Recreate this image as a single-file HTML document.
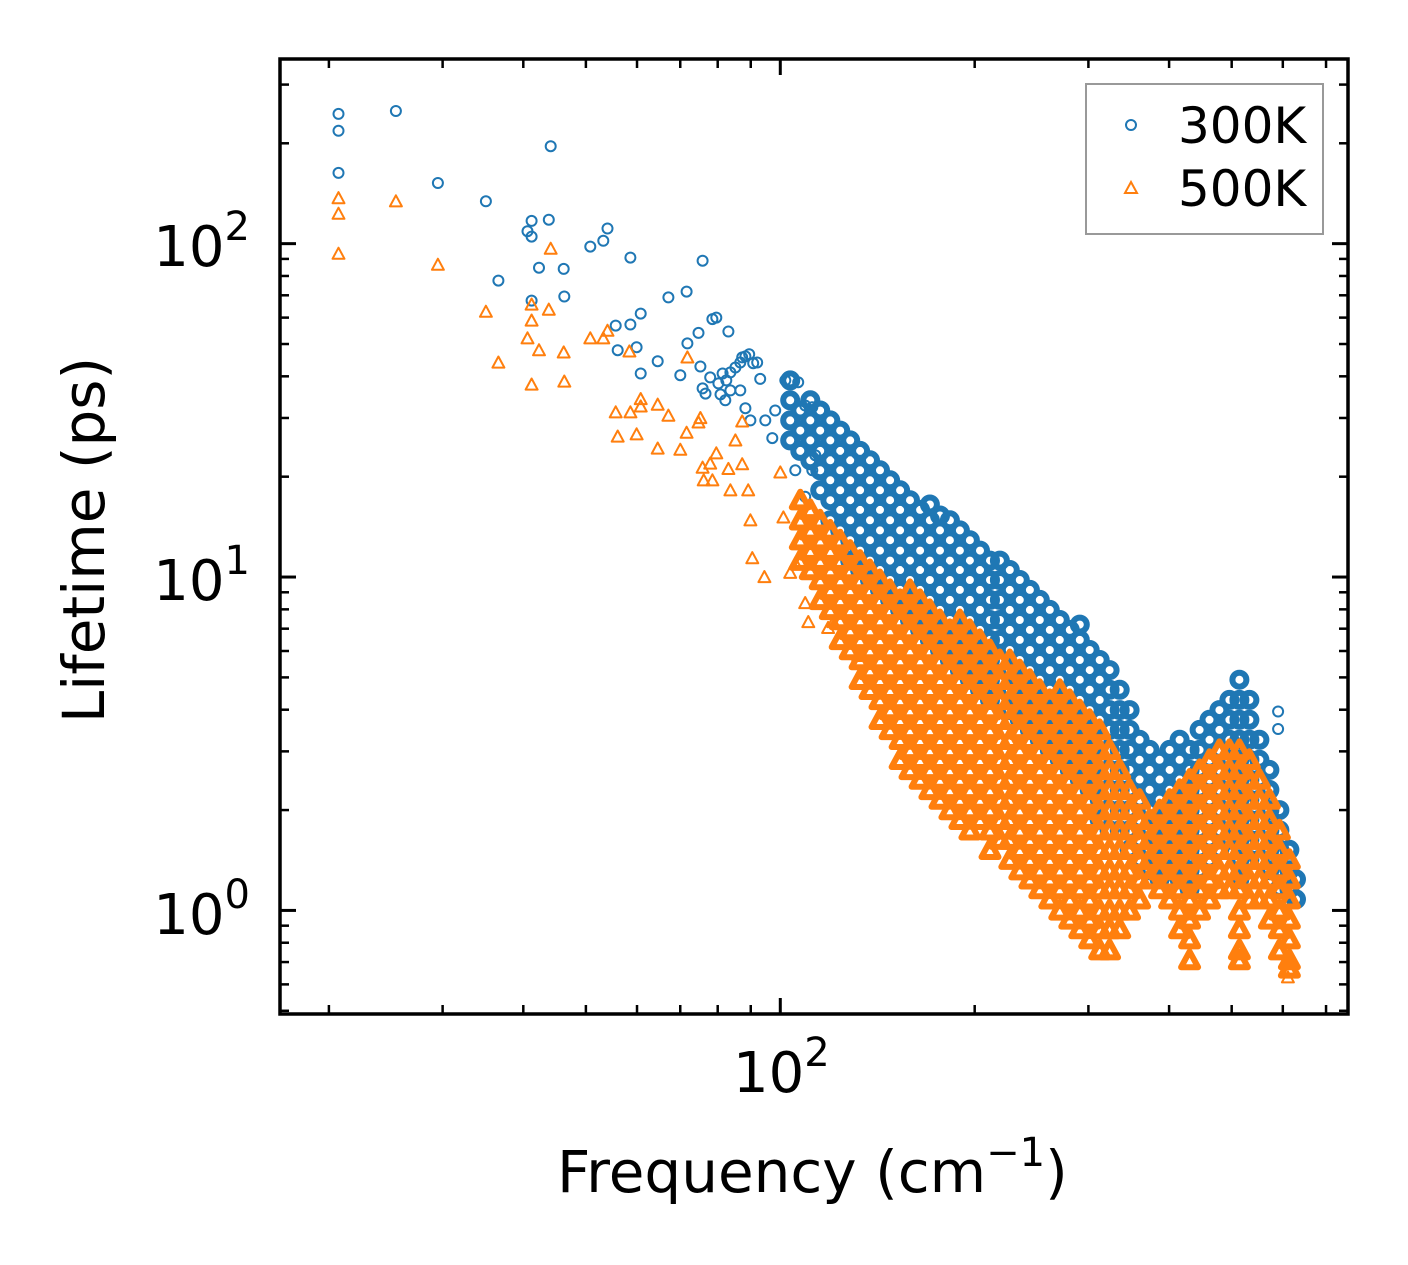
<!DOCTYPE html>
<html><head><meta charset="utf-8"><style>
html,body{margin:0;padding:0;background:#fff;}
svg{display:block;font-family:"DejaVu Sans","Liberation Sans",sans-serif;}
</style></head><body>
<svg id="chart" width="1408" height="1265" viewBox="0 0 1408 1265" xmlns="http://www.w3.org/2000/svg">
<rect x="0" y="0" width="1408" height="1265" fill="#fff"/>
<g id="marks300"></g>
<g id="marks500"></g>
<g id="ticks"></g>
<rect x="280" y="59" width="1068" height="955" fill="none" stroke="#000" stroke-width="3.5"/>
<text x="250" y="266" font-size="56" text-anchor="end">10<tspan font-size="40" dy="-26">2</tspan></text>
<text x="250" y="600" font-size="56" text-anchor="end">10<tspan font-size="40" dy="-26">1</tspan></text>
<text x="250" y="934" font-size="56" text-anchor="end">10<tspan font-size="40" dy="-26">0</tspan></text>
<text x="733" y="1092" font-size="56">10<tspan font-size="40" dy="-26">2</tspan></text>
<text x="557" y="1192" font-size="58">Frequency (cm<tspan font-size="40" dy="-26">−1</tspan><tspan dy="26">)</tspan></text>
<text transform="translate(104,540) rotate(-90)" font-size="58" text-anchor="middle">Lifetime (ps)</text>
<g>
<rect x="1086" y="84" width="237" height="150" fill="#fff" stroke="#999" stroke-width="2"/>
<circle cx="1131" cy="125" r="5" fill="none" stroke="#1f77b4" stroke-width="2"/>
<text x="1178" y="143" font-size="50">300K</text>
<polygon points="1131,182 1137,193 1125,193" fill="none" stroke="#ff7f0e" stroke-width="2"/>
<text x="1178" y="206" font-size="50">500K</text>
</g>
</svg>
<script>
// ---- data (frequency cm^-1, lifetime ps) ----
const sparse300 = [[20.7,245],[20.7,218],[20.7,163],[25.4,250],[29.5,152],[35.0,134],[40.6,109],[41.2,105],[41.2,117],[41.2,67.5],[42.3,84.7],[43.8,118],[44.1,196],[46.2,84],[46.3,69.4],[36.6,77.5],[50.8,98],[53.2,102],[54.0,111],[58.6,90.8],[55.6,56.8],[56.0,47.9],[58.6,57.2],[59.9,48.9],[60.8,61.7],[60.8,40.8],[64.6,44.4],[67.1,69],[70.0,40.3],[71.6,71.8],[71.8,50.2],[75.8,88.9],[75.2,42.8],[74.7,54],[78.5,59.4],[79.6,60],[83.1,54.5],[83.7,36.3],[87.3,45.6],
[75.8,36.8],[76.6,35.5],[77.9,39.7],[80.2,38.1],[81.4,40.8],[82.5,38.9],[83.7,41.1],[85.2,42.5],[86.7,44],[88.3,45.9],[89.5,46.6],[90.8,43.8],[92.1,44],[93.1,39.3],[86.7,36.3],[88.3,32.1],[89.9,29.5],[94.8,29.5],[98.2,31.6],[97.2,26.1],[101.8,38.9],[106.6,38.4],[109.3,32.7],[112.1,32.3],[115.3,31.6],[105.5,20.9],[109.3,17.4],[112.1,20.9],[113.3,23.2],[80.8,35.3],[82.2,33.9],[590,3.95],[590,3.5]];
const freq300 = [103.6,107.4,111.3,115.3,119.5,123.8,128.3,132.9,137.7,142.7,147.9,153.3,158.8,164.6,170.5,176.7,183.1,189.7,196.6,203.8,211.2,218.8,226.7,234.9,243.5,252.3,261.4,270.9,280.7,290.9,301.4,312.3,323.6,335.4,347.5,360.1,373.2,386.7,400.7,415.2,430.3,445.9,462,478.6,496,514,532.6,552,572,592.8,614.2,629];
const life300 = [
[38.9,33.9,29.5,25.7],[31.6,27.5,23.9],[33.9,29.5,25.7,22.4],[31.6,27.5,23.9,20.9,18.2],[29.5,25.7,22.4,19.5,17.0,14.8],[27.5,23.9,20.9,18.2,15.9,13.8],[25.7,22.4,19.5,17.0,14.8,12.9,11.2],[23.9,20.9,18.2,15.9,13.8,12.0,10.5],[22.4,19.5,17.0,14.8,12.9,11.2,9.8],[20.9,18.2,15.9,13.8,12.0,10.5,9.15],[19.5,17.0,14.8,12.9,11.2,9.8,8.54],[18.2,15.9,13.8,12.0,10.5,9.15,7.97],[17.0,14.8,12.9,11.2,9.8,8.54,7.43],[15.9,13.8,12.0,10.5,9.15,7.97,6.94],[16.5,14.8,12.9,11.2,9.8,8.54,7.43,6.48],[15.3,13.8,12.0,10.5,9.15,7.97,6.94,6.04],[14.8,12.9,11.2,9.8,8.54,7.43,6.48,5.64],[13.8,12.0,10.5,9.15,7.97,6.94,6.04,5.26],[12.9,11.2,9.8,8.54,7.43,6.48,5.64,4.92],[12.0,10.5,9.15,7.97,6.94,6.04,5.26,4.59],[11.2,9.8,8.54,7.43,6.48,5.64,4.92,4.28],[11.2,9.8,8.54,7.43,6.48,5.64,4.92,4.28],[10.5,9.15,7.97,6.94,6.04,5.26,4.59,3.99],[9.8,8.54,7.43,6.48,5.64,4.92,4.28,3.73],[9.15,7.97,6.94,6.04,5.26,4.59,3.99,3.48],[8.54,7.43,6.48,5.64,4.92,4.28,3.73,3.25],[7.97,6.94,6.04,5.26,4.59,3.99,3.48,3.03],[7.43,6.48,5.64,4.92,4.28,3.73,3.25,2.83],[6.94,6.04,5.26,4.59,3.99,3.48,3.03,2.64],[7.2,6.48,5.64,4.92,4.28,3.73,3.25,2.83,2.47],[6.04,5.26,4.59,3.99,3.48,3.03,2.64,2.30],[5.64,4.92,4.28,3.73,3.25,2.83,2.47,2.15,1.87],[5.26,4.59,3.99,3.48,3.03,2.64,2.30,2.0,1.74],[4.59,3.99,3.48,3.03,2.64,2.30,2.0,1.74],[3.99,3.48,3.03,2.64,2.30,2.0,1.74,1.52],[3.25,2.83,2.47,2.15,1.87,1.63,1.42],[3.03,2.64,2.30,2.0,1.74,1.52,1.32],[2.83,2.47,2.15,1.87,1.63,1.42,1.24],[3.03,2.64,2.30,2.0,1.74,1.52,1.32,1.2],[3.25,2.83,2.47,2.15,1.87,1.63,1.42,1.24],[3.03,2.64,2.30,2.0,1.74,1.52,1.32,1.16],[3.48,3.03,2.64,2.30,2.0,1.74,1.52,1.32],[3.73,3.25,2.83,2.47,2.15,1.87,1.63,1.42],[3.99,3.48,3.03,2.64,2.30,2.0,1.74,1.52],[4.28,3.73,3.25,2.83,2.47,2.15,1.87,1.63],[4.92,4.28,3.73,3.25,2.83,2.47,2.15,1.87,1.63,1.42,1.24],[4.28,3.73,3.25,2.83,2.47,2.15,1.87,1.63,1.42],[3.25,2.83,2.47,2.15,1.87,1.63,1.42],[2.64,2.30,2.0,1.74,1.52,1.32],[2.0,1.74,1.52,1.32,1.16],[1.52,1.32,1.16],[1.24,1.08]];
const sparse500 = [[20.7,137],[20.7,123],[20.7,93.3],[25.4,134],[29.5,86.5],[35.0,62.5],[36.6,44],[40.6,52],[41.2,65.7],[41.2,58.8],[41.2,37.8],[42.3,47.9],[43.8,63.4],[44.1,96.6],[46.2,47.2],[46.3,38.6],[50.8,52],[53.2,52],[54.0,54.8],[55.6,31.2],[56.0,26.4],[58.4,47.5],[58.6,31.2],[59.9,26.8],[60.8,34.2],[60.8,32.5],[64.6,32.9],[64.6,24.3],[67.1,30.5],[70.0,24.1],[71.6,27.1],[71.8,45.6],[74.7,29.1],[75.2,30],[75.8,21.3],[76.1,19.5],[78.5,19.5],[77.9,21.9],[79.6,23.5],[83.1,21.1],[83.7,18.2],[87.3,21.8],[89.2,18.2],[87.3,29.3],[85.2,25.7],[89.9,14.8],[90.5,11.4],[94.5,10],[101.1,15.1],[100,20.6],[103.6,10.3],[105.5,11],[109.3,8.36],[110.5,7.33],[118.6,7.04],[120.8,7.33],[132.0,5.8],[611,0.63]];
const freq500 = [107.4,111.3,115.3,119.5,123.8,128.3,132.9,137.7,142.7,147.9,153.3,158.8,164.6,170.5,176.7,183.1,189.7,196.6,203.8,211.2,218.8,226.7,234.9,243.5,252.3,261.4,270.9,280.7,290.9,301.4,312.3,323.6,335.4,347.5,360.1,373.2,386.7,400.7,415.2,430.3,445.9,462,478.6,496,514,532.6,552,572,592.8,614.2];
const life500 = [
[17.0,14.8,12.9,11.2],[15.9,13.8,12.0,10.5],[14.8,12.9,11.2,9.8,8.54],[13.8,12.0,10.5,9.15,7.97],[12.9,11.2,9.8,8.54,7.43,6.48],[12.0,10.5,9.15,7.97,6.94,6.04],[11.2,9.8,8.54,7.43,6.48,5.64,4.92],[10.5,9.15,7.97,6.94,6.04,5.26,4.59],[9.8,8.54,7.43,6.48,5.64,4.92,4.28,3.73],[9.15,7.97,6.94,6.04,5.26,4.59,3.99,3.48],[8.54,7.43,6.48,5.64,4.92,4.28,3.73,3.25,2.83],[9.15,7.97,6.94,6.04,5.26,4.59,3.99,3.48,3.03,2.64],[8.54,7.43,6.48,5.64,4.92,4.28,3.73,3.25,2.83,2.47],[7.97,6.94,6.04,5.26,4.59,3.99,3.48,3.03,2.64,2.30],[7.43,6.48,5.64,4.92,4.28,3.73,3.25,2.83,2.47,2.15],[6.94,6.04,5.26,4.59,3.99,3.48,3.03,2.64,2.30,2.0],[7.43,6.48,5.64,4.92,4.28,3.73,3.25,2.83,2.47,2.15,1.87],[6.94,6.04,5.26,4.59,3.99,3.48,3.03,2.64,2.30,2.0,1.74],[6.48,5.64,4.92,4.28,3.73,3.25,2.83,2.47,2.15,1.87],[6.04,5.26,4.59,3.99,3.48,3.03,2.64,2.30,2.0,1.74,1.52],[5.64,4.92,4.28,3.73,3.25,2.83,2.47,2.15,1.87,1.63],[5.64,4.92,4.28,3.73,3.25,2.83,2.47,2.15,1.87,1.63,1.42],[5.26,4.59,3.99,3.48,3.03,2.64,2.30,2.0,1.74,1.52,1.32],[4.92,4.28,3.73,3.25,2.83,2.47,2.15,1.87,1.63,1.42,1.24],[4.59,3.99,3.48,3.03,2.64,2.30,2.0,1.74,1.52,1.32,1.16],[4.28,3.73,3.25,2.83,2.47,2.15,1.87,1.63,1.42,1.24,1.08],[4.59,3.99,3.48,3.03,2.64,2.30,2.0,1.74,1.52,1.32,1.16,1.0],[4.28,3.73,3.25,2.83,2.47,2.15,1.87,1.63,1.42,1.24,1.08,0.94],[3.99,3.48,3.03,2.64,2.30,2.0,1.74,1.52,1.32,1.16,1.0,0.88],[3.73,3.25,2.83,2.47,2.15,1.87,1.63,1.42,1.24,1.08,0.94,0.82],[3.48,3.03,2.64,2.30,2.0,1.74,1.52,1.32,1.16,1.0,0.88,0.76],[3.03,2.64,2.30,2.0,1.74,1.52,1.32,1.16,1.0,0.88,0.76],[2.64,2.30,2.0,1.74,1.52,1.32,1.16,1.0,0.88],[2.30,2.0,1.74,1.52,1.32,1.16,1.0],[2.15,1.87,1.63,1.42,1.24,1.08],[1.87,1.63,1.42,1.24],[2.0,1.74,1.52,1.32,1.16],[2.15,1.87,1.63,1.42,1.24,1.08],[2.30,2.0,1.74,1.52,1.32,1.16,1.0,0.88],[2.47,2.15,1.87,1.63,1.42,1.24,1.08,0.94,0.82,0.71],[2.64,2.30,2.0,1.74,1.52,1.32,1.16,1.0],[2.83,2.47,2.15,1.87,1.63,1.42,1.24,1.08],[3.03,2.64,2.30,2.0,1.74,1.52,1.32,1.16],[3.03,2.64,2.30,2.0,1.74,1.52,1.32,1.16],[3.03,2.64,2.30,2.0,1.74,1.52,1.32,1.16,1.0,0.88,0.76,0.71],[2.83,2.47,2.15,1.87,1.63,1.42,1.24,1.08],[2.47,2.15,1.87,1.63,1.42,1.24,1.08],[2.15,1.87,1.63,1.42,1.24,1.08,0.94],[1.74,1.52,1.32,1.16,1.0,0.88,0.76],[1.42,1.24,1.08,0.94,0.82,0.71,0.67]];
const xMajorTicks = [100];
const xMinorTicks = [20,30,40,50,60,70,80,90,200,300,400,500,600,700];
const yMajorTicks = [1,10,100];
const yMinorTicks = [0.5,0.6,0.7,0.8,0.9,2,3,4,5,6,7,8,9,20,30,40,50,60,70,80,90,200,300];

// ---- axes ----
const X0=280,X1=1348,Y0=59,Y1=1014;
const xMin=16.8,xMax=757, yMin=0.489, yMax=358;
function xs(f){return X0+(Math.log10(f)-Math.log10(xMin))/(Math.log10(xMax)-Math.log10(xMin))*(X1-X0);}
function ys(v){return Y1-(Math.log10(v)-Math.log10(yMin))/(Math.log10(yMax)-Math.log10(yMin))*(Y1-Y0);}
const NS="http://www.w3.org/2000/svg";
function mk(tag,attrs,parent){const e=document.createElementNS(NS,tag);for(const k in attrs)e.setAttribute(k,attrs[k]);parent.appendChild(e);return e;}

const ticks=document.getElementById('ticks');
function tickLine(x1,y1,x2,y2,w,name){const l=mk('line',{x1:x1,y1:y1,x2:x2,y2:y2,stroke:'#000','stroke-width':w},ticks);

}
xMajorTicks.forEach(t=>{const x=xs(t);tickLine(x,Y1,x,Y1-16,3,'x-major-tick');tickLine(x,Y0,x,Y0+16,3,'x-major-tick-top');});
xMinorTicks.forEach(t=>{const x=xs(t);tickLine(x,Y1,x,Y1-9,2.5,'x-minor-tick');tickLine(x,Y0,x,Y0+9,2.5,'x-minor-tick-top');});
yMajorTicks.forEach(t=>{const y=ys(t);tickLine(X0,y,X0+16,y,3,'y-major-tick');tickLine(X1,y,X1-16,y,3,'y-major-tick-right');});
yMinorTicks.forEach(t=>{const y=ys(t);tickLine(X0,y,X0+9,y,2.5,'y-minor-tick');tickLine(X1,y,X1-9,y,2.5,'y-minor-tick-right');});

const g3=document.getElementById('marks300'), g5=document.getElementById('marks500');
function circ(f,v,r,w){const c=mk('circle',{cx:xs(f).toFixed(1),cy:ys(v).toFixed(1),r:r,fill:'none',stroke:'#1f77b4','stroke-width':w},g3);

}
function tri(f,v,s,w){const x=xs(f),y=ys(v);const p=mk('polygon',{points:`${x.toFixed(1)},${(y-s).toFixed(1)} ${(x+s).toFixed(1)},${(y+s*0.85).toFixed(1)} ${(x-s).toFixed(1)},${(y+s*0.85).toFixed(1)}`,fill:'none',stroke:'#ff7f0e','stroke-width':w,'stroke-linejoin':'round'},g5);

}
sparse300.forEach(p=>circ(p[0],p[1],5,2));
freq300.forEach((f,i)=>life300[i].forEach(v=>circ(f,v,7,6)));
sparse500.forEach(p=>tri(p[0],p[1],6,2));
freq500.forEach((f,i)=>life500[i].forEach(v=>tri(f,v,8.5,6)));
</script>
</body></html>
